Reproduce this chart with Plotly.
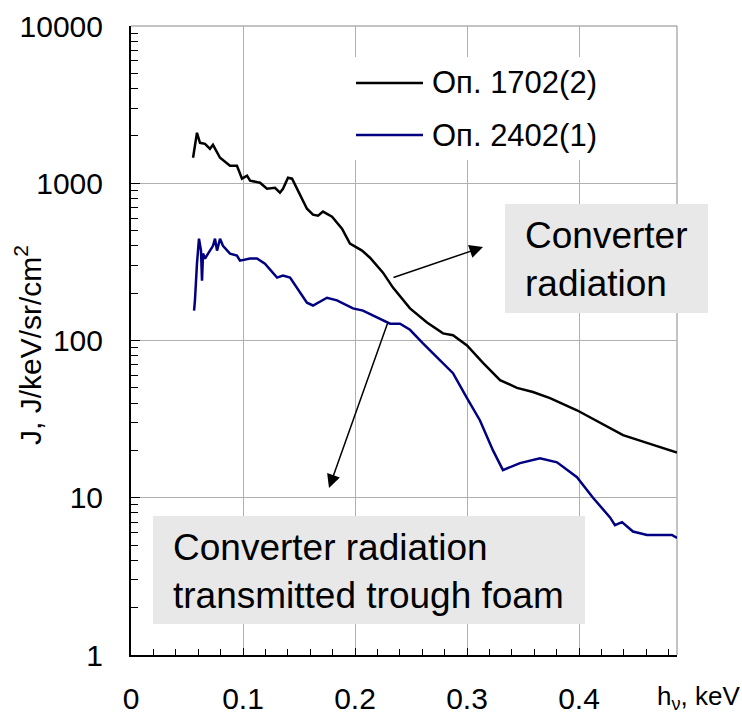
import plotly.graph_objects as go

# ---------------- data ----------------
series_names = ["Оп. 1702(2)", "Оп. 2402(1)"]
series_colors = ["#000000", "#000080"]

x_1702 = [0.0554, 0.0589, 0.0616, 0.0661, 0.0705, 0.0732, 0.0795, 0.0884, 0.0946,
          0.0991, 0.1036, 0.1063, 0.1152, 0.1214, 0.1286, 0.1330, 0.1357, 0.1402,
          0.1438, 0.1491, 0.1571, 0.1625, 0.1670, 0.1714, 0.1795, 0.1884, 0.1955,
          0.2063, 0.2134, 0.2250, 0.2339, 0.2491, 0.2643, 0.2786, 0.2875, 0.3000,
          0.3143, 0.3295, 0.3446, 0.3589, 0.3741, 0.3982, 0.4188, 0.4393, 0.4634,
          0.4875]
y_1702 = [1452, 2094, 1807, 1782, 1656, 1756, 1452, 1291, 1291,
          1069, 1117, 1038, 1008, 922, 936, 871, 922, 1084,
          1069, 896, 689, 631, 622, 660, 613, 514, 413,
          373, 336, 270, 217, 160, 130, 111, 108, 93,
          72, 56, 50, 47, 43, 36, 30, 25, 22,
          19.4]

x_2402 = [0.0563, 0.0571, 0.0589, 0.0607, 0.0625, 0.0634, 0.0643, 0.0661, 0.0688,
          0.0732, 0.0750, 0.0768, 0.0795, 0.0821, 0.0884, 0.0946, 0.0973, 0.1063,
          0.1125, 0.1196, 0.1304, 0.1357, 0.1420, 0.1482, 0.1571, 0.1625, 0.1750,
          0.1839, 0.1982, 0.2071, 0.2313, 0.2402, 0.2491, 0.2607, 0.2696, 0.2875,
          0.3000, 0.3116, 0.3232, 0.3321, 0.3473, 0.3652, 0.3804, 0.3982, 0.4125,
          0.4214, 0.4277, 0.4321, 0.4384, 0.4482, 0.4607, 0.4830, 0.4875]
y_2402 = [155, 180, 308, 444, 373, 240, 357, 332, 357,
          400, 444, 373, 444, 400, 357, 347, 322, 332,
          332, 308, 251, 259, 251, 217, 174, 167, 187,
          180, 160, 155, 128, 128, 117, 96, 83, 62,
          43, 31, 20, 15, 16.6, 17.8, 16.8, 13.5, 10,
          8.4, 7.5, 6.7, 7.0, 6.1, 5.8, 5.8, 5.55]

x_tick_vals = [0, 0.1, 0.2, 0.3, 0.4]
x_tick_text = ["0", "0.1", "0.2", "0.3", "0.4"]
y_tick_vals = [1, 10, 100, 1000, 10000]
y_tick_text = ["1", "10", "100", "1000", "10000"]

x_title = "h<sub>ν</sub>, keV"
y_title = "J, J/keV/sr/cm<sup>2</sup>"
box_texts = ["Converter<br>radiation", "Converter radiation<br>transmitted trough foam"]

FONT = "Liberation Sans, Arial, sans-serif"

# ---------------- layout geometry (pixels) ----------------
W, H = 742, 717
L, R, T, B = 131, 677, 26, 655
PW, PH = R - L, B - T


def px(xp):
    return (xp - L) / PW


def py(yp):
    return (B - yp) / PH


fig = go.Figure()
fig.add_trace(go.Scatter(x=x_1702, y=y_1702, mode="lines", name=series_names[0],
                         line=dict(color=series_colors[0], width=2.5), showlegend=False))
fig.add_trace(go.Scatter(x=x_2402, y=y_2402, mode="lines", name=series_names[1],
                         line=dict(color=series_colors[1], width=2.5), showlegend=False))

shapes = []
# plot-area frame (top / right) in gray
shapes.append(dict(type="line", xref="paper", yref="paper", x0=0, x1=1, y0=1, y1=1,
                   line=dict(color="#888888", width=1), layer="below"))
shapes.append(dict(type="line", xref="paper", yref="paper", x0=1, x1=1, y0=0, y1=1,
                   line=dict(color="#888888", width=1), layer="below"))
# legend background
shapes.append(dict(type="rect", xref="paper", yref="paper", x0=px(349), x1=px(605),
                   y0=py(160), y1=py(57), fillcolor="white", line=dict(width=0), layer="above"))
# gray text boxes
shapes.append(dict(type="rect", xref="paper", yref="paper", x0=px(505), x1=px(708),
                   y0=py(313), y1=py(204), fillcolor="#e8e8e8", line=dict(width=0), layer="above"))
shapes.append(dict(type="rect", xref="paper", yref="paper", x0=px(153), x1=px(585),
                   y0=py(624), y1=py(516), fillcolor="#e8e8e8", line=dict(width=0), layer="above"))
# legend lines
for i, yy in enumerate([83, 135]):
    shapes.append(dict(type="line", xref="paper", yref="paper", x0=px(356), x1=px(423),
                       y0=py(yy), y1=py(yy), line=dict(color=series_colors[i], width=2.5),
                       layer="above"))

annotations = []
for i, yy in enumerate([83, 135]):
    annotations.append(dict(text=series_names[i], xref="paper", yref="paper", x=px(430),
                            y=py(yy), xanchor="left", yanchor="middle", showarrow=False,
                            font=dict(family=FONT, size=31, color="black")))
annotations.append(dict(text=box_texts[0], xref="paper", yref="paper", x=px(523), y=py(259),
                        xanchor="left", yanchor="middle", align="left", showarrow=False,
                        font=dict(family=FONT, size=37, color="black")))
annotations.append(dict(text=box_texts[1], xref="paper", yref="paper", x=px(171), y=py(571),
                        xanchor="left", yanchor="middle", align="left", showarrow=False,
                        font=dict(family=FONT, size=37, color="black")))
# arrows
annotations.append(dict(text="", xref="paper", yref="paper", x=px(483), y=py(247),
                        ax=-91, ay=31, showarrow=True, arrowhead=2, arrowsize=1.8,
                        arrowwidth=1.5, arrowcolor="black"))
annotations.append(dict(text="", xref="paper", yref="paper", x=px(329), y=py(488),
                        ax=59, ay=-166, showarrow=True, arrowhead=2, arrowsize=1.8,
                        arrowwidth=1.5, arrowcolor="black"))
# axis titles
annotations.append(dict(text=x_title, xref="paper", yref="paper", x=px(655), y=py(697),
                        xanchor="left", yanchor="middle", showarrow=False,
                        font=dict(family=FONT, size=26, color="black")))
annotations.append(dict(text=y_title, xref="paper", yref="paper", x=px(28), y=py(345),
                        xanchor="center", yanchor="middle", textangle=-90, showarrow=False,
                        font=dict(family=FONT, size=30, color="black")))

fig.update_layout(
    width=W, height=H,
    margin=dict(l=L, r=W - R, t=T, b=H - B, pad=0, autoexpand=False),
    paper_bgcolor="white", plot_bgcolor="white",
    font=dict(family=FONT, size=30, color="black"),
    shapes=shapes, annotations=annotations,
    showlegend=False,
)
fig.update_xaxes(
    range=[0, 0.4875], tickvals=x_tick_vals, ticktext=x_tick_text, automargin=False,
    showgrid=True, gridcolor="#b0b0b0", gridwidth=1, zeroline=False,
    showline=True, linecolor="black", linewidth=2,
    ticks="inside", ticklen=7, tickwidth=1, tickcolor="black",
    tickfont=dict(family=FONT, size=30, color="black"), ticklabelstandoff=16,
    minor=dict(dtick=0.02, tick0=0, ticks="inside", ticklen=6, tickwidth=1,
               tickcolor="black", showgrid=False),
)
fig.update_yaxes(
    type="log", range=[0, 4], tickvals=y_tick_vals, ticktext=y_tick_text, automargin=False,
    showgrid=True, gridcolor="#b0b0b0", gridwidth=1, zeroline=False,
    showline=True, linecolor="black", linewidth=2,
    ticks="inside", ticklen=9, tickwidth=1, tickcolor="black",
    tickfont=dict(family=FONT, size=30, color="black"), ticklabelstandoff=20,
    minor=dict(dtick="D1", ticks="inside", ticklen=7, tickwidth=1,
               tickcolor="black", showgrid=False),
)

fig.write_html("out.html")
